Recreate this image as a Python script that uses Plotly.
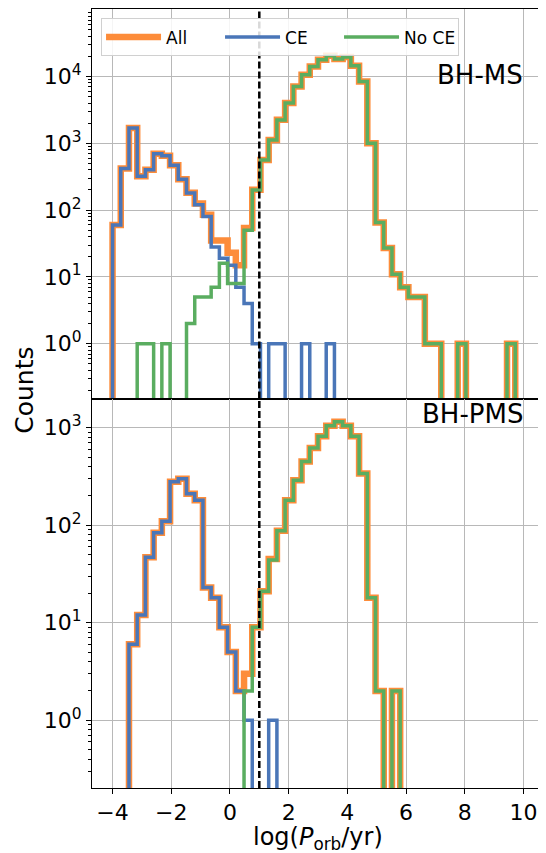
import numpy as np
import plotly.graph_objects as go
from plotly.subplots import make_subplots

# histogram bins in log(P_orb/yr)
bin_lo, bin_hi, n_bins = -4.0, 10.0, 50
ce_threshold = 1.0

# BH-MS counts per bin
top_all = [60, 420, 1700, 321, 401, 700, 651, 470, 290, 182, 125, 85, 35, 35, 23, 15, 54, 201, 560, 1121,
           2241, 4000, 7100, 10601, 14100, 17800, 20401, 18200, 19500, 14500, 8400, 1000, 65, 27, 11, 7, 5, 5, 1, 1,
           0, 0, 1, 0, 0, 0, 0, 0, 1, 0]
top_ce = [60, 420, 1700, 320, 400, 700, 650, 470, 290, 180, 120, 80, 28, 19, 15, 7, 4, 1, 0, 1,
          1, 0, 0, 1, 0, 0, 1, 0, 0, 0, 0, 0, 0, 0, 0, 0, 0, 0, 0, 0,
          0, 0, 0, 0, 0, 0, 0, 0, 0, 0]
top_noce = [0, 0, 0, 1, 1, 0, 1, 0, 0, 2, 5, 5, 7, 16, 8, 8, 50, 200, 560, 1120,
            2240, 4000, 7100, 10600, 14100, 17800, 20400, 18200, 19500, 14500, 8400, 1000, 65, 27, 11, 7, 5, 5, 1, 1,
            0, 0, 1, 0, 0, 0, 0, 0, 1, 0]

# BH-PMS counts per bin
bot_all = [0, 0, 6, 12, 47, 84, 110, 280, 300, 210, 180, 23, 18, 9, 5, 2, 3, 9, 21, 45,
           88, 180, 290, 450, 620, 820, 1050, 1150, 1050, 820, 340, 18, 2, 0, 2, 0, 0, 0, 0, 0,
           0, 0, 0, 0, 0, 0, 0, 0, 0, 0]
bot_ce = [0, 0, 6, 12, 47, 84, 110, 280, 300, 210, 180, 23, 18, 9, 5, 2, 1, 0, 0, 1,
          0, 0, 0, 0, 0, 0, 0, 0, 0, 0, 0, 0, 0, 0, 0, 0, 0, 0, 0, 0,
          0, 0, 0, 0, 0, 0, 0, 0, 0, 0]
bot_noce = [0, 0, 0, 0, 0, 0, 0, 0, 0, 0, 0, 0, 0, 0, 0, 0, 2, 9, 21, 44,
            88, 180, 290, 450, 620, 820, 1050, 1150, 1050, 820, 340, 18, 2, 0, 2, 0, 0, 0, 0, 0,
            0, 0, 0, 0, 0, 0, 0, 0, 0, 0]

edges = np.linspace(bin_lo, bin_hi, n_bins + 1)
FLOOR = 1e-3  # zero bins drop below the axis, like matplotlib's step hist


def step_xy(counts):
    c = np.where(np.asarray(counts) > 0, counts, FLOOR).astype(float)
    x = np.concatenate([[edges[0]], np.repeat(edges, 2)[1:-1], [edges[-1]]])
    y = np.concatenate([[FLOOR], np.repeat(c, 2), [FLOOR]])
    return x, y


ORANGE = "#fd8c3a"
BLUE = "#4a76b8"
GREEN = "#5aad60"
FONT = "DejaVu Sans"

fig = make_subplots(rows=2, cols=1, shared_xaxes=True, vertical_spacing=0)

panels = [(1, top_all, top_ce, top_noce), (2, bot_all, bot_ce, bot_noce)]
for row, s_all, s_ce, s_noce in panels:
    for name, counts, color, width in [("All", s_all, ORANGE, 6.5), ("CE", s_ce, BLUE, 3.5), ("No CE", s_noce, GREEN, 3.5)]:
        x, y = step_xy(counts)
        fig.add_trace(go.Scatter(x=x, y=y, mode="lines", name=name, legendgroup=name, showlegend=(row == 1),
                                 line=dict(color=color, width=width)), row=row, col=1)

fig.add_vline(x=ce_threshold, line_dash="7px,3px", line_color="black", line_width=2.5)

axis_style = dict(showline=True, linecolor="black", linewidth=1, mirror=True, showgrid=True,
                  gridcolor="#b8b8b8", gridwidth=1, ticks="outside", ticklen=5, tickcolor="black",
                  tickfont=dict(size=22, color="black", family=FONT), zeroline=False)

fig.update_xaxes(range=[-4.7, 10.7], dtick=2, tick0=0, **axis_style)

minor_vals = [m * 10.0 ** e for e in range(-1, 5) for m in range(2, 10)]
fig.update_yaxes(type="log", **axis_style,
                 minor=dict(tickmode="array", tickvals=minor_vals, ticks="outside", ticklen=3,
                            tickcolor="black", showgrid=False))
fig.update_yaxes(range=[-0.82, 5.01], tickvals=[1, 10, 100, 1000, 10000],
                 ticktext=[f"10<sup>{i}</sup>" for i in range(5)], row=1, col=1)
fig.update_yaxes(range=[-0.695, 3.30], tickvals=[1, 10, 100, 1000],
                 ticktext=[f"10<sup>{i}</sup>" for i in range(4)], row=2, col=1)

fig.add_annotation(text="BH-MS", xref="x domain", yref="y domain", x=0.958, y=0.831, showarrow=False,
                   xanchor="right", yanchor="middle", font=dict(size=26, family=FONT, color="black"))
fig.add_annotation(text="BH-PMS", xref="x2 domain", yref="y2 domain", x=0.958, y=0.96, showarrow=False,
                   xanchor="right", yanchor="middle", font=dict(size=26, family=FONT, color="black"))
fig.add_annotation(text="Counts", xref="paper", yref="paper", x=-0.148, y=0.51, showarrow=False, textangle=-90,
                   xanchor="center", yanchor="middle", font=dict(size=25, family=FONT, color="black"))
fig.add_annotation(text="log(<i>P</i><sub>orb</sub>/yr)", xref="paper", yref="paper", x=0.5, y=-0.065,
                   showarrow=False, xanchor="center", yanchor="middle",
                   font=dict(size=24, family=FONT, color="black"))

# the page body adds an 8px margin, so the figure is 8px smaller than the window
fig.update_layout(
    width=538, height=845,
    margin=dict(l=84, r=2, t=1, b=65),
    plot_bgcolor="white", paper_bgcolor="white",
    font=dict(family=FONT, color="black"),
    legend=dict(orientation="h", x=0.02, y=0.988, xanchor="left", yanchor="top",
                bgcolor="rgba(255,255,255,0.85)", bordercolor="#d0d0d0", borderwidth=1,
                font=dict(size=17, family=FONT), entrywidth=49, entrywidthmode="pixels",
                itemwidth=55),
)

fig.write_html("out.html")
